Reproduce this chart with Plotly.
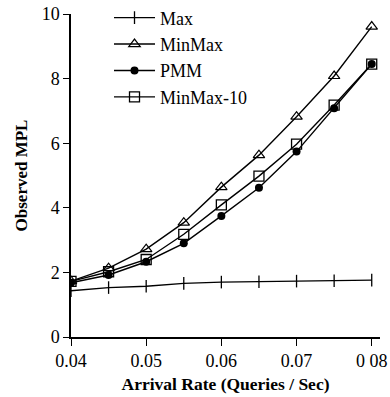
import plotly.graph_objects as go

x_rates = [0.04, 0.045, 0.05, 0.055, 0.06, 0.065, 0.07, 0.075, 0.08]
max_vals = [1.43, 1.53, 1.57, 1.66, 1.70, 1.71, 1.73, 1.74, 1.76]
minmax_vals = [1.73, 2.13, 2.72, 3.54, 4.64, 5.63, 6.82, 8.08, 9.61]
pmm_vals = [1.68, 1.92, 2.33, 2.90, 3.75, 4.62, 5.74, 7.08, 8.45]
minmax10_vals = [1.72, 2.02, 2.40, 3.18, 4.09, 4.98, 5.97, 7.18, 8.45]

x_ticks = [0.04, 0.05, 0.06, 0.07, 0.08]
x_tick_text = ["0.04", "0.05", "0.06", "0.07", "0 08"]
y_ticks = [0, 2, 4, 6, 8, 10]

series = [
    ("Max", max_vals, dict(symbol="line-ns", size=9, line=dict(width=1.3, color="black"), color="black")),
    ("MinMax", minmax_vals, dict(symbol="triangle-up-open", size=10, line=dict(width=1.2, color="black"), color="black")),
    ("PMM", pmm_vals, dict(symbol="circle", size=8, color="black", line=dict(width=0))),
    ("MinMax-10", minmax10_vals, dict(symbol="square-open", size=10, line=dict(width=1.3, color="black"), color="black")),
]

fig = go.Figure()
for name, vals, mk in series:
    fig.add_trace(go.Scatter(
        x=x_rates, y=vals, name=name, mode="lines+markers",
        line=dict(color="black", width=1.4), marker=mk,
    ))

font_family = "Liberation Serif"
fig.update_layout(
    width=390, height=397,
    margin=dict(l=71, r=10, t=14, b=60, autoexpand=False),
    plot_bgcolor="white", paper_bgcolor="white",
    font=dict(family=font_family, color="black", size=17),
    showlegend=True,
    legend=dict(x=0.123, y=1.045, xanchor="left", yanchor="top",
                bgcolor="rgba(0,0,0,0)", font=dict(size=18, family=font_family),
                tracegroupgap=0, itemwidth=41),
    xaxis=dict(
        range=[0.04, 0.0811], showline=True, linecolor="black", linewidth=1.5,
        ticks="outside", ticklen=7, tickwidth=1.3, tickcolor="black",
        tickvals=x_ticks, ticktext=x_tick_text, showgrid=False, zeroline=False,
        tickfont=dict(size=18, family=font_family), ticklabeloverflow="allow",
        title=dict(text="<b>Arrival Rate (Queries / Sec)</b>", font=dict(size=17.5, family=font_family), standoff=7),
    ),
    yaxis=dict(
        range=[0, 10], showline=True, linecolor="black", linewidth=1.5,
        ticks="outside", ticklen=6, tickwidth=1.3, tickcolor="black",
        tickvals=y_ticks, showgrid=False, zeroline=False,
        tickfont=dict(size=18, family=font_family), ticklabeloverflow="allow",
        title=dict(text="<b>Observed MPL</b>", font=dict(size=17, family=font_family), standoff=10),
    ),
)

fig.write_html("out.html", config={"displayModeBar": False},
               post_script="document.body.style.margin='0';")
